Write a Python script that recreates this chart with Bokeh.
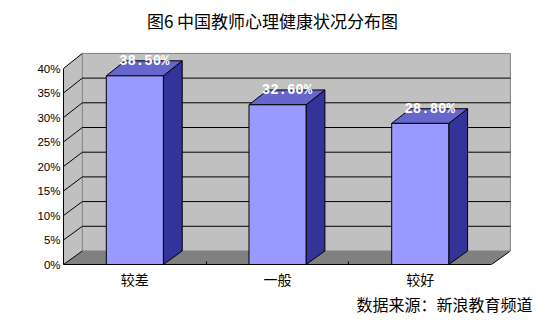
from bokeh.plotting import figure
from bokeh.models import (ColumnDataSource, Range1d, LinearAxis, FixedTicker,
                          PrintfTickFormatter, Label, Title)
from bokeh.core.properties import value
from bokeh.embed import file_html
from bokeh.resources import INLINE

# ---- data ----
TITLE = "图6 中国教师心理健康状况分布图"
SOURCE_NOTE = "数据来源：新浪教育频道"
categories = ["较差", "一般", "较好"]
values = [38.5, 32.6, 28.8]
value_labels = ["38.50%", "32.60%", "28.80%"]
y_ticks = [0, 5, 10, 15, 20, 25, 30, 35, 40]

# ---- 3D styling (depth offsets in data units) ----
DX = 0.132      # depth shift in category units
DY = 2.76       # depth shift in percent units
BK = 1.008      # slight perspective on back plane
BAR_HALF = 0.2
YMAX = y_ticks[-1]
N = len(categories)
CJK = "Noto Sans CJK SC"

p = figure(width=545, height=322, output_backend="svg", toolbar_location=None,
           x_range=Range1d(0, 3.378), y_range=Range1d(0, 53.88),
           min_border_left=63, min_border_right=0, min_border_top=0,
           min_border_bottom=58, x_axis_type=None, y_axis_type=None)
p.outline_line_color = None
p.background_fill_color = "white"
p.border_fill_color = "white"

# floor
p.patch([0, N, N + DX, DX], [0, 0, DY, DY], fill_color="#808080", line_color=None)
p.segment(x0=[N], y0=[0], x1=[N + DX], y1=[DY], line_color="black", line_width=1)
# left wall
p.patch([0, DX, DX, 0], [0, DY, DY + YMAX * BK, YMAX], fill_color="#c0c0c0", line_color=None)
# back wall
p.quad(left=[DX], right=[N + DX], bottom=[DY], top=[DY + YMAX * BK],
       fill_color="#c0c0c0", line_color="#808080", line_width=1)

# gridlines
inner = y_ticks[1:-1]
p.segment(x0=[DX] * len(inner), y0=[DY + t * BK for t in inner],
          x1=[N + DX] * len(inner), y1=[DY + t * BK for t in inner],
          line_color="black", line_width=1)
p.segment(x0=[0] * len(y_ticks), y0=y_ticks,
          x1=[DX] * len(y_ticks), y1=[DY + t * BK for t in y_ticks],
          line_color="black", line_width=1)

# bars
centers = [i + 0.5 for i in range(N)]
front_l = [c - BAR_HALF for c in centers]
front_r = [c + BAR_HALF for c in centers]
side_xs = [[r, r + DX, r + DX, r] for r in front_r]
side_ys = [[0, DY, DY + v * BK, v] for v in values]
top_xs = [[l, r, r + DX, l + DX] for l, r in zip(front_l, front_r)]
top_ys = [[v, v, DY + v * BK, DY + v * BK] for v in values]

p.patches(side_xs, side_ys, fill_color="#333399", line_color="black", line_width=1)
p.patches(top_xs, top_ys, fill_color="#6666cc", line_color="black", line_width=1)
p.quad(left=front_l, right=front_r, bottom=[0] * N, top=values,
       fill_color="#9999ff", line_color="black", line_width=1)

lab = ColumnDataSource(dict(x=[c + DX / 2 for c in centers],
                            y=[DY + v * BK for v in values],
                            t=value_labels))
p.text(x="x", y="y", text="t", source=lab, text_color="white",
       text_font=value("Liberation Mono"), text_font_style="bold",
       text_font_size="14px", text_align="center", text_baseline="middle")

# axes
yaxis = LinearAxis(ticker=FixedTicker(ticks=y_ticks),
                   formatter=PrintfTickFormatter(format="%d%%"),
                   bounds=(0, YMAX), major_tick_in=0, major_tick_out=0,
                   minor_tick_in=0, minor_tick_out=0, axis_line_color="black",
                   major_label_standoff=3, major_label_text_color="black",
                   major_label_text_font="Liberation Sans",
                   major_label_text_font_size="11.5px")
p.add_layout(yaxis, "left")

xaxis = LinearAxis(ticker=FixedTicker(ticks=centers, minor_ticks=list(range(1, N))),
                   major_label_overrides={c: name for c, name in zip(centers, categories)},
                   bounds=(0, N), major_tick_in=0, major_tick_out=0,
                   minor_tick_in=3, minor_tick_out=0, minor_tick_line_color="black",
                   axis_line_color="black", major_label_standoff=4,
                   major_label_text_color="black", major_label_text_font=CJK,
                   major_label_text_font_size="14px")
p.add_layout(xaxis, "below")

p.add_layout(Title(text=SOURCE_NOTE, align="right", text_font=CJK,
                   text_font_size="16px", text_font_style="normal",
                   text_color="black", offset=13, standoff=-3), "below")

p.add_layout(Label(x=209, y=244, x_units="screen", y_units="screen", text=TITLE,
                   text_align="center", text_baseline="middle", text_font=CJK,
                   text_font_size="17px", text_color="black"))

open("out.html", "w").write(file_html(p, INLINE))
